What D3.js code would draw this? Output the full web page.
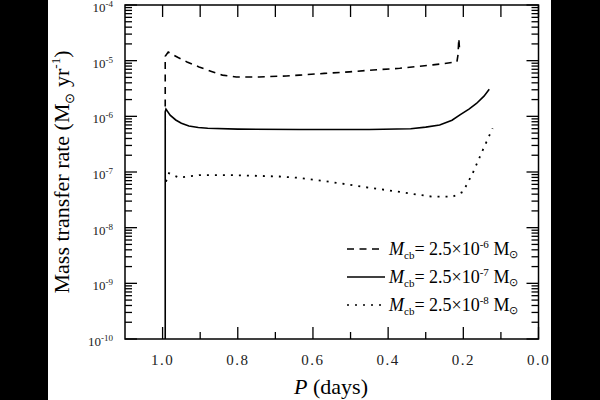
<!DOCTYPE html>
<html><head><meta charset="utf-8">
<script src="https://cdn.jsdelivr.net/npm/d3@7"></script>
<style>html,body{margin:0;padding:0;background:#000;} svg{display:block}</style>
</head><body>
<svg id="c" width="600" height="400"></svg>
<script>
// ---- data ----
const xMajorTicks = [1.0, 0.8, 0.6, 0.4, 0.2, 0.0];
const xMinorTicks = [0.9, 0.7, 0.5, 0.3, 0.1];
const yDecadeExps = [-10, -9, -8, -7, -6, -5, -4];
const legendExps = ["-6", "-7", "-8"];

// M_cb = 2.5e-6 (dashed)
const dashedP = [0.993, 0.993, 0.985, 0.96, 0.935, 0.903, 0.87, 0.841, 0.804, 0.743, 0.671, 0.636, 0.57, 0.503, 0.44, 0.369, 0.32, 0.281, 0.25, 0.217, 0.214, 0.212, 0.210];
const dashedV = [1.5e-6, 1.2e-5, 1.43e-5, 1.15e-5, 9.5e-6, 7.7e-6, 6.4e-6, 5.5e-6, 5.1e-6, 5.1e-6, 5.3e-6, 5.5e-6, 5.9e-6, 6.3e-6, 6.8e-6, 7.3e-6, 7.9e-6, 8.4e-6, 8.9e-6, 9.5e-6, 1.3e-5, 2.5e-5, 1.6e-5];

// M_cb = 2.5e-7 (solid)
const solidP = [0.993, 0.993, 0.991, 0.98, 0.965, 0.95, 0.93, 0.905, 0.88, 0.8, 0.636, 0.45, 0.34, 0.3, 0.263, 0.23, 0.209, 0.185, 0.165, 0.145, 0.131];
const solidV = [1e-10, 1.2e-6, 1.35e-6, 1.05e-6, 8.6e-7, 7.5e-7, 6.7e-7, 6.3e-7, 6.1e-7, 5.9e-7, 5.8e-7, 5.8e-7, 6.0e-7, 6.4e-7, 7.0e-7, 8.5e-7, 1.06e-6, 1.35e-6, 1.7e-6, 2.3e-6, 3.06e-6];

// M_cb = 2.5e-8 (dotted)
const dottedP = [0.991, 0.983, 0.956, 0.903, 0.815, 0.689, 0.644, 0.57, 0.503, 0.44, 0.369, 0.32, 0.281, 0.228, 0.201, 0.175, 0.148, 0.122];
const dottedV = [6.7e-8, 9.5e-8, 7.9e-8, 8.8e-8, 8.8e-8, 8.3e-8, 7.9e-8, 6.9e-8, 5.9e-8, 5.1e-8, 4.4e-8, 3.9e-8, 3.6e-8, 3.6e-8, 4.4e-8, 9.5e-8, 2.5e-7, 6.1e-7];

// ---- drawing ----
const FONT = '"Liberation Serif", "Times New Roman", serif';
const svg = d3.select("#c");
svg.append("rect").attr("x", 48).attr("y", 0).attr("width", 503).attr("height", 400).attr("fill", "#fff");

const L = 125, R = 538.5, T = 5, B = 339;
const x = d3.scaleLinear().domain([1.1, 0]).range([L, R]);
const y = d3.scaleLog().domain([1e-10, 1e-4]).range([B, T]);

const g = svg.append("g");

// curves
const line = d3.line().x(d => x(d[0])).y(d => y(d[1]));
const series = [
  {P: dashedP, V: dashedV, dash: "7,5.5"},
  {P: solidP, V: solidV, dash: null},
  {P: dottedP, V: dottedV, dash: "2,6"}
];
series.forEach(s => {
  const pts = s.P.map((p, i) => [p, s.V[i]]);
  g.append("path").attr("d", line(pts)).attr("fill", "none")
    .attr("stroke", "#000").attr("stroke-width", s.dash === "2,6" ? 1.8 : 1.6)
    .attr("stroke-dasharray", s.dash);
});

// frame
g.append("rect").attr("x", L).attr("y", T).attr("width", R - L).attr("height", B - T)
  .attr("fill", "none").attr("stroke", "#000").attr("stroke-width", 1.5);

const tk = g.append("g").attr("stroke", "#000").attr("stroke-width", 1.3);
// x ticks bottom
xMajorTicks.forEach(v => tk.append("line").attr("x1", x(v)).attr("x2", x(v)).attr("y1", B).attr("y2", B - 12));
xMinorTicks.forEach(v => tk.append("line").attr("x1", x(v)).attr("x2", x(v)).attr("y1", B).attr("y2", B - 7));
// x ticks top
xMajorTicks.concat(xMinorTicks).forEach(v => tk.append("line").attr("x1", x(v)).attr("x2", x(v)).attr("y1", T).attr("y2", T + 12));

// y ticks
yDecadeExps.forEach(e => {
  const v = Math.pow(10, e);
  tk.append("line").attr("x1", L).attr("x2", L + 12).attr("y1", y(v)).attr("y2", y(v));
  tk.append("line").attr("x1", R).attr("x2", R - 12).attr("y1", y(v)).attr("y2", y(v));
  if (e < -4) {
    for (let m = 2; m <= 9; m++) {
      const vv = m * v;
      tk.append("line").attr("x1", L).attr("x2", L + 7).attr("y1", y(vv)).attr("y2", y(vv));
      tk.append("line").attr("x1", R).attr("x2", R - 7).attr("y1", y(vv)).attr("y2", y(vv));
    }
  }
});

// x tick labels
xMajorTicks.forEach(v => {
  g.append("text").attr("x", x(v)).attr("y", 365).attr("text-anchor", "middle")
    .style("font-family", FONT).attr("font-size", 15).attr("letter-spacing", 1.5)
    .attr("fill", "#222").text(d3.format(".1f")(v));
});

// y tick labels
yDecadeExps.forEach(e => {
  const t = g.append("text").attr("x", 113).attr("y", y(Math.pow(10, e)) + 7)
    .attr("text-anchor", "end").style("font-family", FONT).attr("font-size", 13).attr("fill", "#222");
  t.append("tspan").text("10");
  t.append("tspan").attr("font-size", 9).attr("dy", -5).text(String(e));
});

// axis titles
const xt = g.append("text").attr("x", 331).attr("y", 394).attr("text-anchor", "middle")
  .style("font-family", FONT).attr("font-size", 22).attr("fill", "#000");
xt.append("tspan").attr("font-style", "italic").text("P");
xt.append("tspan").text(" (days)");

const yt = g.append("text").attr("transform", "translate(69,172) rotate(-90)")
  .attr("text-anchor", "middle").style("font-family", FONT).attr("font-size", 22).attr("fill", "#000");
yt.append("tspan").text("Mass transfer rate (M");
yt.append("tspan").attr("font-size", 13).attr("dy", 5).text("⊙");
yt.append("tspan").attr("dy", -5).text(" yr");
yt.append("tspan").attr("font-size", 13).attr("dy", -9).text("-1");
yt.append("tspan").attr("dy", 9).text(")");

// legend
const legY = [249, 277, 305];
series.forEach((s, i) => {
  g.append("line").attr("x1", 347).attr("x2", s.dash ? 381 : 385).attr("y1", legY[i]).attr("y2", legY[i])
    .attr("stroke", "#000").attr("stroke-width", 1.6).attr("stroke-dasharray", s.dash);
  const t = g.append("text").attr("x", 389).attr("y", legY[i] + 6)
    .style("font-family", FONT).attr("font-size", 18).attr("fill", "#000");
  t.append("tspan").attr("font-style", "italic").text("M");
  t.append("tspan").attr("font-size", 11).attr("dy", 4).text("cb");
  t.append("tspan").attr("dy", -4).text("= 2.5×10");
  t.append("tspan").attr("font-size", 11).attr("dy", -7).text(legendExps[i]);
  t.append("tspan").attr("dy", 7).text(" M");
  t.append("tspan").attr("font-size", 11).attr("dy", 3).text("⊙");
});
</script>
</body></html>
